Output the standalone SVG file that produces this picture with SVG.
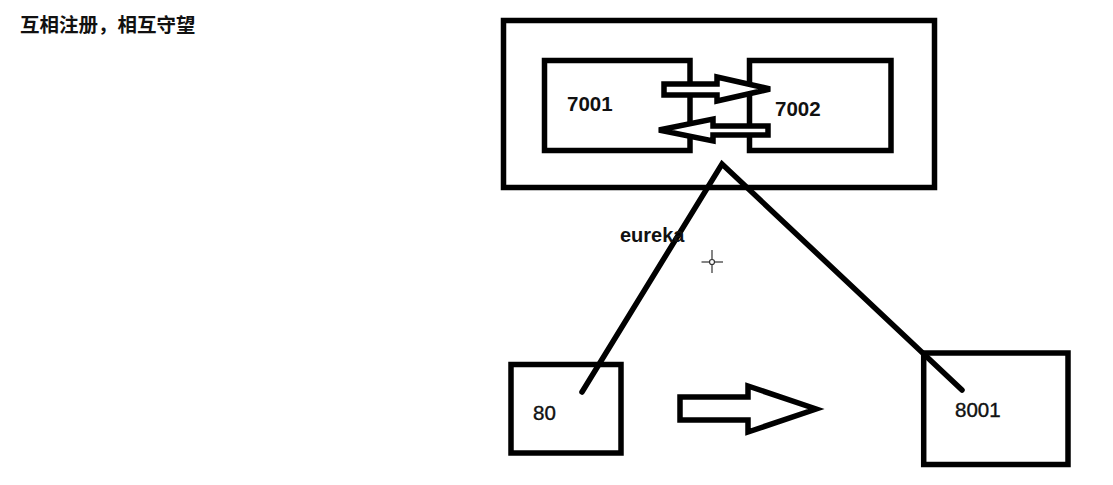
<svg xmlns="http://www.w3.org/2000/svg" width="1113" height="485" viewBox="0 0 1113 485">
<style>
.box{fill:none;stroke:#000;stroke-width:5.5}
.arr{fill:#fff;stroke:#000;stroke-width:5.5;stroke-linejoin:miter}
.ln{fill:none;stroke:#000;stroke-width:5.5;stroke-linecap:round;stroke-linejoin:miter}
.lbl{font-family:"Liberation Sans",Arial,sans-serif;font-size:20.5px;fill:#111}
.b{font-weight:bold}
.title{font-family:"Noto Sans CJK SC","Liberation Sans",sans-serif;font-size:19.5px;font-weight:bold;fill:#111}
</style>
<rect width="1113" height="485" fill="#fff"/>
<text class="title" x="20" y="32">互相注册，相互守望</text>
<g id="cluster">
<rect class="box" x="503.5" y="20.5" width="431" height="167"/>
</g>
<g id="n7001">
<rect class="box" x="544.5" y="60.5" width="145.5" height="90"/>
<text class="lbl b" x="567" y="111">7001</text>
</g>
<g id="n7002">
<rect class="box" x="749.5" y="60.5" width="141.5" height="90"/>
<text class="lbl b" x="775" y="116">7002</text>
</g>
<g id="n80">
<rect class="box" x="511" y="364.5" width="110" height="88.5"/>
<text class="lbl" x="533" y="420" style="stroke:#111;stroke-width:0.4">80</text>
</g>
<g id="n8001">
<rect class="box" x="923.7" y="353" width="144.3" height="111.5"/>
<text class="lbl" x="955" y="417" style="stroke:#111;stroke-width:0.4">8001</text>
</g>
<g id="connectors">
<polygon class="arr" points="664,84 717,84 717,77 770,89 717,101 717,95 664,95"/>
<polygon class="arr" points="768,126 713,126 713,119 659,130 713,141 713,135 768,135"/>
<polyline class="ln" points="582,392 722,164 962,390"/>
<polygon class="arr" points="680,397 748,397 748,386 816,409 748,432 748,420 680,420"/>
<text class="lbl b" x="620" y="242" style="font-size:20px">eureka</text>
</g>
<g id="cursor" stroke="#333" stroke-width="1.2" fill="none">
<line x1="701.5" y1="262" x2="723" y2="262"/>
<line x1="712" y1="250" x2="712" y2="273"/>
<circle cx="712" cy="262" r="2.5" fill="#fff"/>
</g>
</svg>
